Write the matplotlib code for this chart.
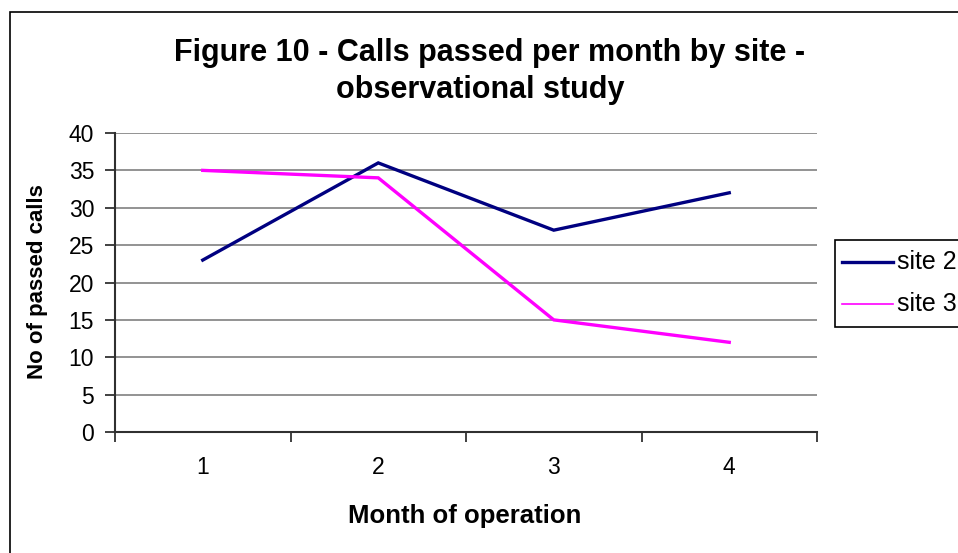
import matplotlib
matplotlib.use("Agg")
import matplotlib.pyplot as plt
from matplotlib.lines import Line2D
from matplotlib.patches import Rectangle

plt.rcParams['font.family'] = ['Liberation Sans', 'DejaVu Sans']

months = [1, 2, 3, 4]
month_labels = ["1", "2", "3", "4"]
site2 = [23, 36, 27, 32]
site3 = [35, 34, 15, 12]
series_names = ["site 2", "site 3"]

W, H = 958, 553
fig = plt.figure(figsize=(W / 100, H / 100), dpi=100)

# outer chart frame
fig.patches.append(Rectangle((10 / W, -0.1), 1.2, 1 - 12 / H + 0.1, transform=fig.transFigure,
                             fill=False, edgecolor='black', linewidth=1.2))

ax = fig.add_axes([115 / W, 1 - 432 / H, 702 / W, 299 / H])
ax.plot(months, site2, color='#000080', linewidth=2.4, solid_joinstyle='miter')
ax.plot(months, site3, color='#FF00FF', linewidth=2.4, solid_joinstyle='miter')

ax.set_xlim(0.5, 4.5)
ax.set_ylim(0, 40)
ax.set_yticks(range(0, 41, 5))
ax.yaxis.grid(True, color='#808080', linewidth=1.2)
ax.set_axisbelow(True)
ax.set_xticks([0.5, 1.5, 2.5, 3.5, 4.5])
ax.set_xticklabels([])
ax.set_xticks(months, minor=True)
ax.set_xticklabels(month_labels, minor=True)
ax.tick_params(axis='x', which='minor', length=0, pad=17, labelsize=16.5)
ax.tick_params(axis='x', which='major', length=7, width=1.2, color='#202020', direction='out')
ax.tick_params(axis='y', length=7, width=1.2, color='#202020', labelsize=16.5, pad=8)
for s in ['top', 'right']:
    ax.spines[s].set_visible(False)
for s in ['left', 'bottom']:
    ax.spines[s].set_color('#303030')
    ax.spines[s].set_linewidth(1.5)

fig.text(38 / W, 1 - 282 / H, "No of passed calls", rotation=90, ha='center', va='center',
         fontsize=16, fontweight='bold')
fig.text(465 / W, 1 - 523 / H, "Month of operation", ha='center', va='baseline',
         fontsize=18.5, fontweight='bold')

fig.text(490 / W, 1 - 61 / H, "Figure 10 - Calls passed per month by site -", ha='center', va='baseline',
         fontsize=22, fontweight='bold')
fig.text(480 / W, 1 - 98 / H, "observational study", ha='center', va='baseline',
         fontsize=22, fontweight='bold')

# legend box
fig.patches.append(Rectangle((835 / W, 1 - 327 / H), 0.2, 87 / H, transform=fig.transFigure,
                             fill=True, facecolor='white', edgecolor='black', linewidth=1.2))
leg_y = [262, 304]
widths = [2.4, 1.2]
colors = ['#000080', '#FF00FF']
for name, y, lw, c in zip(series_names, leg_y, widths, colors):
    fig.lines.append(Line2D([842 / W, 893 / W], [1 - y / H, 1 - y / H], transform=fig.transFigure,
                            color=c, linewidth=lw))
    fig.text(897 / W, 1 - y / H, name, ha='left', va='center', fontsize=18)

fig.savefig("out.png", dpi=100)
